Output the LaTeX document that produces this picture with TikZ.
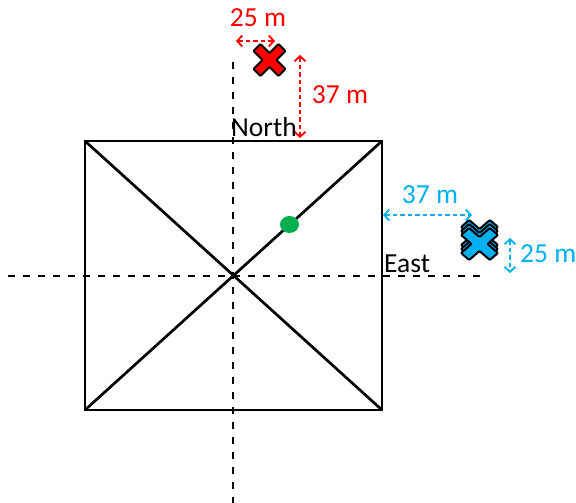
\documentclass[tikz,border=0pt]{standalone}
\usepackage{fontspec}
\setmainfont{Carlito}
\usetikzlibrary{arrows.meta,shapes.geometric}
\definecolor{xred}{RGB}{255,0,0}
\definecolor{xblue}{RGB}{0,176,240}
\definecolor{xgreen}{RGB}{0,176,80}
\tikzset{
  lbl/.style={font=\fontsize{27.5}{32}\selectfont, inner sep=0pt, anchor=base},
  axisline/.style={dash pattern=on 7pt off 8pt, line width=1.7pt},
  frameline/.style={line width=2.7pt},
  meas/.style={dash pattern=on 4.5pt off 3pt, line width=1.8pt,
    {Straight Barb[length=5pt,width=11pt,line width=1.8pt]}-{Straight Barb[length=5pt,width=11pt,line width=1.8pt]}},
  pics/xmark/.style={code={
    \draw[line width=2pt, fill=#1, line join=round, rounded corners=0.8pt]
      (0,-7) -- (9,-16) -- (16,-9) -- (7,0) -- (16,9) -- (9,16) -- (0,7)
      -- (-9,16) -- (-16,9) -- (-7,0) -- (-16,-9) -- (-9,-16) -- cycle;
  }}
}
\begin{document}
\begin{tikzpicture}[x=1pt,y=-1pt]
\useasboundingbox (0,0) rectangle (576,503);
% corners
\coordinate (A) at (85,141);
\coordinate (B) at (382,141);
\coordinate (C) at (382,410);
\coordinate (D) at (85,410);
% axes
\coordinate (axW) at (8,276);
\coordinate (axE) at (480,276);
\coordinate (axN) at (233,62);
\coordinate (axS) at (233,503);
\draw[axisline] (axW) -- (axE);
\draw[axisline] (axN) -- (axS);
% square and diagonals
\draw[frameline] (A) -- (B) -- (C) -- (D) -- cycle;
\draw[frameline] (A) -- (C);
\draw[frameline] (B) -- (D);
% green dot
\node[ellipse, fill=xgreen, minimum width=19pt, minimum height=17pt, inner sep=0pt] (gdot) at (289.5,224.5) {};
% red marker
\pic at (269.5,60) {xmark=xred};
\coordinate (r1) at (236,41);
\coordinate (r2) at (275,41);
\coordinate (r3) at (300,55);
\coordinate (r4) at (300,138);
\draw[meas, xred] (r1) -- (r2);
\draw[meas, xred] (r3) -- (r4);
\node[lbl, text=xred] (l25r) at (258,27) {25 m};
\node[lbl, text=xred] (l37r) at (340,103) {37 m};
\node[lbl, anchor=base west] (north) at (231,136) {North};
% blue marker
\pic[xscale=1.15] at (479.5,236) {xmark=xblue};
\pic[xscale=1.15] at (479.5,240) {xmark=xblue};
\pic[xscale=1.15] at (479.5,244) {xmark=xblue};
\coordinate (b1) at (383,215);
\coordinate (b2) at (472,215);
\coordinate (b3) at (510,238);
\coordinate (b4) at (510,273);
\draw[meas, xblue] (b1) -- (b2);
\draw[meas, xblue] (b3) -- (b4);
\node[lbl, text=xblue] (l37b) at (430,203) {37 m};
\node[lbl, text=xblue, anchor=base west] (l25b) at (520,262) {25 m};
\node[lbl, anchor=base west] (east) at (384,272) {East};
\end{tikzpicture}
\end{document}
